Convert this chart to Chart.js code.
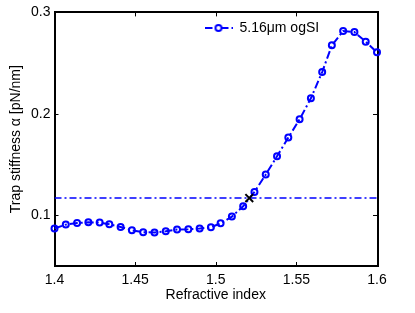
<html>
  <head>
    <script src="https://cdn.jsdelivr.net/npm/chart.js"></script>
    <style>
      body { margin: 0; background: #fff; }
    </style>
  </head>

  <body>
    <canvas id="myChart" width="415" height="313"></canvas>
    <script>
      // refractive index sweep and trap stiffness
      const refractiveIndex = [1.400, 1.407, 1.414, 1.421, 1.428, 1.434, 1.441, 1.448, 1.455, 1.462,
        1.469, 1.476, 1.483, 1.490, 1.497, 1.503, 1.510, 1.517, 1.524, 1.531,
        1.538, 1.545, 1.552, 1.559, 1.566, 1.572, 1.579, 1.586, 1.593, 1.600]
      const stiffness = [0.0869, 0.0908, 0.0924, 0.0931, 0.0928, 0.0911, 0.0885, 0.0852, 0.0833, 0.0830,
        0.0842, 0.0859, 0.0862, 0.0869, 0.0882, 0.0921, 0.0987, 0.1089, 0.1230, 0.1401,
        0.1581, 0.1766, 0.1946, 0.2153, 0.2412, 0.2675, 0.2816, 0.2806, 0.2711, 0.2606]
      const seriesLabel = "5.16\u03bcm ogSI"

      // reference level and the crossing marker
      const thresholdX = [1.4, 1.6]
      const thresholdY = [0.117, 0.117]
      const crossingX = [1.5208]
      const crossingY = [0.117]

      const xTicks = [1.4, 1.45, 1.5, 1.55, 1.6]
      const yTicks = [0.1, 0.2, 0.3]

      Chart.defaults.font.family = "'Liberation Sans', Arial, sans-serif"
      Chart.defaults.font.size = 14
      Chart.defaults.color = "#000"

      const blue = "#0000ff"

      // small icon for the legend: dash-dot line with a circle
      const icon = document.createElement("canvas")
      icon.width = 28
      icon.height = 10
      const ic = icon.getContext("2d")
      ic.strokeStyle = blue
      ic.lineWidth = 2
      ic.setLineDash([8, 3, 2, 3])
      ic.beginPath()
      ic.moveTo(0, 5)
      ic.lineTo(28, 5)
      ic.stroke()
      ic.setLineDash([])
      ic.beginPath()
      ic.arc(14, 5, 3, 0, Math.PI * 2)
      ic.fillStyle = "#fff"
      ic.fill()
      ic.stroke()

      const axesBox = {
        id: "axesBox",
        beforeDatasetsDraw(chart) {
          const { ctx, chartArea: a, scales } = chart
          ctx.save()
          ctx.strokeStyle = "#000"
          ctx.lineWidth = 1
          ctx.beginPath()
          for (const v of xTicks) {
            const px = Math.round(scales.x.getPixelForValue(v)) + 0.5
            ctx.moveTo(px, a.bottom); ctx.lineTo(px, a.bottom - 4)
            ctx.moveTo(px, a.top); ctx.lineTo(px, a.top + 4)
          }
          for (const v of yTicks) {
            const py = Math.round(scales.y.getPixelForValue(v)) + 0.5
            ctx.moveTo(a.left, py); ctx.lineTo(a.left + 4, py)
            ctx.moveTo(a.right, py); ctx.lineTo(a.right - 4, py)
          }
          ctx.stroke()
          ctx.lineWidth = 2
          ctx.strokeRect(Math.round(a.left), Math.round(a.top), Math.round(a.right - a.left), Math.round(a.bottom - a.top))
          ctx.restore()
        }
      }

      // move the legend from the top-left corner of the plot to where it sits in the original
      const legendShift = {
        id: "legendShift",
        afterLayout(chart) {
          chart.legend.left += 140
          chart.legend.right += 140
          chart.legend.top += 11
          chart.legend.bottom += 11
        }
      }

      const data = {
        datasets: [
          {
            data: crossingX.map((x, i) => ({ x: x, y: crossingY[i] })),
            showLine: false,
            pointStyle: "crossRot",
            pointRadius: 5.5,
            pointBorderWidth: 2,
            pointBorderColor: "#000",
            borderColor: "#000",
            order: 0,
            clip: false
          },
          {
            label: seriesLabel,
            data: refractiveIndex.map((x, i) => ({ x: x, y: stiffness[i] })),
            borderColor: blue,
            borderWidth: 2,
            borderDash: [8, 3, 2, 3],
            pointStyle: "circle",
            pointRadius: 3,
            pointBorderWidth: 2,
            pointBorderColor: blue,
            pointBackgroundColor: "rgba(0,0,0,0)",
            tension: 0,
            order: 1,
            clip: false
          },
          {
            data: thresholdX.map((x, i) => ({ x: x, y: thresholdY[i] })),
            borderColor: blue,
            borderWidth: 1.5,
            borderDash: [7, 3, 2, 3],
            pointRadius: 0,
            order: 2
          }
        ]
      }

      const config = {
        type: "line",
        data: data,
        options: {
          responsive: false,
          animation: false,
          devicePixelRatio: 1,
          layout: { padding: { left: 0, top: 12, right: 38, bottom: 0 } },
          plugins: {
            tooltip: { enabled: false },
            legend: {
              position: "chartArea",
              align: "start",
              labels: {
                usePointStyle: true,
                pointStyle: icon,
                pointStyleWidth: 28,
                padding: 10,
                color: "#000",
                filter: (item) => item.datasetIndex === 1
              }
            }
          },
          scales: {
            x: {
              type: "linear",
              min: 1.4,
              max: 1.6,
              grid: { display: false, drawTicks: false },
              border: { display: false },
              afterBuildTicks: (s) => { s.ticks = xTicks.map((v) => ({ value: v })) },
              afterFit: (s) => { s.height = 47 },
              ticks: { padding: 6, maxRotation: 0, callback: (v) => String(v) },
              title: { display: true, text: "Refractive index", padding: { top: 9, bottom: 9 } }
            },
            y: {
              type: "linear",
              min: 0.05,
              max: 0.3,
              grid: { display: false, drawTicks: false },
              border: { display: false },
              afterBuildTicks: (s) => { s.ticks = yTicks.map((v) => ({ value: v })) },
              afterFit: (s) => { s.width = 54.5 },
              ticks: { padding: 4, callback: (v) => String(v) },
              title: { display: true, text: "Trap stiffness \u03b1 [pN/nm]", padding: { top: 8, bottom: 8 } }
            }
          }
        },
        plugins: [axesBox, legendShift]
      }
      const myChart = new Chart(document.getElementById("myChart"), config)
    </script>
  </body>
</html>
